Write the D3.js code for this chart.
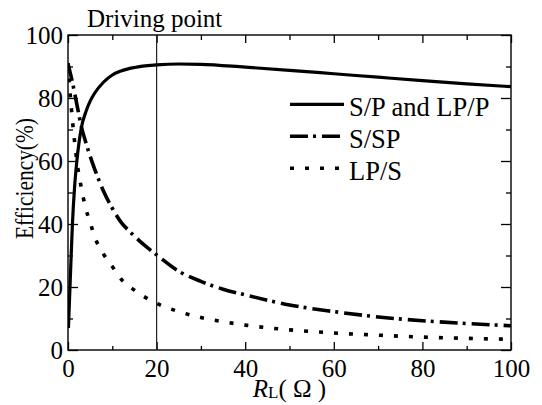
<!DOCTYPE html>
<html>
<head>
<meta charset="utf-8">
<script src="https://cdn.jsdelivr.net/npm/d3@7"></script>
<style>
  body { margin: 0; background: #fff; }
</style>
</head>
<body>
<div id="chart"></div>
<script>
// Values
const spX = [0.1, 0.5, 1, 1.5, 2, 3, 4, 5, 6, 8, 10, 12, 15, 20, 25, 30, 40, 50, 60, 70, 80, 90, 100];
const spY = [7, 22, 40, 52, 60, 70.5, 75.5, 79, 81.5, 85, 87.3, 88.6, 89.7, 90.5, 90.8, 90.7, 89.8, 88.8, 87.7, 86.6, 85.5, 84.5, 83.6];

const sspX = [0, 0.5, 1, 2, 3, 4, 5, 6, 8, 10, 12, 14, 16, 18, 20, 25, 30, 35, 40, 50, 60, 70, 80, 90, 100];
const sspY = [91, 88, 85, 78, 71, 66, 61.5, 57.5, 50.5, 45, 40.5, 37.5, 34.8, 32.4, 30.2, 25, 21.8, 19.3, 17.5, 14.3, 12.2, 10.5, 9.3, 8.4, 7.7];

const lpsX = [0, 0.5, 1, 2, 3, 4, 5, 6, 8, 10, 12, 15, 20, 25, 30, 35, 40, 50, 60, 70, 80, 90, 100];
const lpsY = [91, 81, 73, 60, 51.5, 45, 40.5, 36, 30.5, 26.5, 22.5, 19, 14.8, 12.2, 10.3, 9, 7.9, 6.4, 5.4, 4.7, 4.1, 3.7, 3.4];

const seriesNames = ["S/P and LP/P", "S/SP", "LP/S"];
const xMajor = [0, 20, 40, 60, 80, 100];
const xMinor = [10, 30, 50, 70, 90];
const yMajor = [0, 20, 40, 60, 80, 100];
const yMinor = [10, 30, 50, 70, 90];
const drivingPoint = 20;

const width = 542, height = 405;
const margin = { top: 35, right: 31, bottom: 55, left: 68 };
const w = width - margin.left - margin.right;
const h = height - margin.top - margin.bottom;

const svg = d3.select("#chart").append("svg")
  .attr("width", width).attr("height", height);
const g = svg.append("g").attr("transform", `translate(${margin.left},${margin.top})`);

const x = d3.scaleLinear().domain([0, 100]).range([0, w]);
const y = d3.scaleLinear().domain([0, 100]).range([h, 0]);

// ticks (all pointing inward, mirrored on top/right)
const tickStyle = sel => {
  sel.select(".domain").remove();
  sel.selectAll("line").attr("stroke", "#000").attr("stroke-width", 1.3);
  sel.selectAll("text").attr("fill", "#000");
};
g.append("g").attr("transform", `translate(0,${h})`)
  .call(d3.axisBottom(x).tickValues(xMajor).tickSizeInner(-8).tickSizeOuter(0).tickPadding(9))
  .call(tickStyle);
g.append("g").attr("transform", `translate(0,${h})`)
  .call(d3.axisBottom(x).tickValues(xMinor).tickSizeInner(-4).tickSizeOuter(0).tickFormat(""))
  .call(tickStyle);
g.append("g")
  .call(d3.axisTop(x).tickValues(xMajor).tickSizeInner(-8).tickSizeOuter(0).tickFormat(""))
  .call(tickStyle);
g.append("g")
  .call(d3.axisTop(x).tickValues(xMinor).tickSizeInner(-5).tickSizeOuter(0).tickFormat(""))
  .call(tickStyle);
g.append("g")
  .call(d3.axisLeft(y).tickValues(yMajor).tickSizeInner(-10).tickSizeOuter(0).tickPadding(5))
  .call(tickStyle);
g.append("g")
  .call(d3.axisLeft(y).tickValues(yMinor).tickSizeInner(-5).tickSizeOuter(0).tickFormat(""))
  .call(tickStyle);
g.append("g").attr("transform", `translate(${w},0)`)
  .call(d3.axisRight(y).tickValues(yMajor).tickSizeInner(-10).tickSizeOuter(0).tickFormat(""))
  .call(tickStyle);
g.append("g").attr("transform", `translate(${w},0)`)
  .call(d3.axisRight(y).tickValues(yMinor).tickSizeInner(-5).tickSizeOuter(0).tickFormat(""))
  .call(tickStyle);

// frame
g.append("rect").attr("x", 0).attr("y", 0).attr("width", w).attr("height", h)
  .attr("fill", "none").attr("stroke", "#000").attr("stroke-width", 1.4);

// driving point marker
g.append("line")
  .attr("x1", x(drivingPoint)).attr("x2", x(drivingPoint))
  .attr("y1", y(0)).attr("y2", y(100))
  .attr("stroke", "#222").attr("stroke-width", 1.2);
svg.append("text")
  .attr("x", margin.left + x(drivingPoint) - 2).attr("y", 27)
  .attr("text-anchor", "middle")
  .text("Driving point");

// curves
const styles = [
  { dash: null, width: 3.2, cap: "butt" },
  { dash: "18,5,3,6", width: 3.6, cap: "butt" },
  { dash: "4,11", width: 3.6, cap: "butt" }
];
const series = [
  spX.map((v, i) => [v, spY[i]]),
  sspX.map((v, i) => [v, sspY[i]]),
  lpsX.map((v, i) => [v, lpsY[i]])
];
const line = d3.line().x(d => x(d[0])).y(d => y(d[1])).curve(d3.curveMonotoneX);

const clip = svg.append("clipPath").attr("id", "plot-clip");
clip.append("rect").attr("x", 0).attr("y", -2).attr("width", w).attr("height", h + 2);

g.append("g").attr("clip-path", "url(#plot-clip)")
  .selectAll("path.curve").data(series).join("path")
  .attr("class", "curve")
  .attr("d", line)
  .attr("fill", "none").attr("stroke", "#000")
  .attr("stroke-width", (d, i) => styles[i].width)
  .attr("stroke-linecap", (d, i) => styles[i].cap)
  .attr("stroke-dasharray", (d, i) => styles[i].dash);

// legend
const legend = g.append("g").attr("transform", `translate(${x(50) + 0.5},${y(78)})`);
seriesNames.forEach((name, i) => {
  const row = legend.append("g").attr("transform", `translate(0,${i * 32})`);
  row.append("line").attr("x1", 0).attr("x2", 54).attr("y1", 0).attr("y2", 0)
    .attr("stroke", "#000")
    .attr("stroke-width", styles[i].width)
    .attr("stroke-dasharray", styles[i].dash);
  row.append("text").attr("class", "legend-text").attr("x", 59).attr("y", 12).text(name);
});

// axis titles
const xt = svg.append("text")
  .attr("x", margin.left + x(50)).attr("y", 397)
  .attr("text-anchor", "middle");
xt.append("tspan").style("font-style", "italic").text("R");
xt.append("tspan").style("font-size", "17px").attr("dy", 1).text("L");
xt.append("tspan").attr("dy", -1).text("( Ω )");

svg.append("text").attr("class", "ylabel")
  .attr("transform", `translate(33,${margin.top + y(50) - 14}) rotate(-90)`)
  .attr("text-anchor", "middle")
  .attr("textLength", 121).attr("lengthAdjust", "spacingAndGlyphs")
  .text("Efficiency(%)");

// one serif face for every label
svg.selectAll("text")
  .style("font-family", '"Liberation Serif"')
  .style("font-size", "25px")
  .attr("fill", "#000");
svg.selectAll(".legend-text").style("font-size", "26.5px");
</script>
</body>
</html>
